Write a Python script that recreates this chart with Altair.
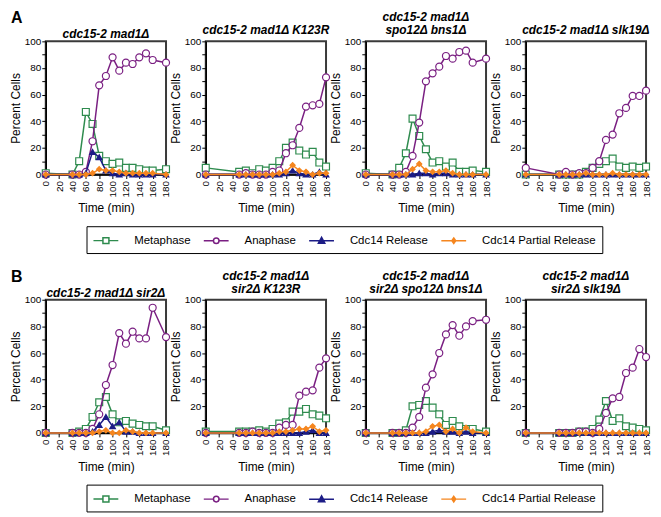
import altair as alt
import pandas as pd

series = ["Metaphase", "Anaphase", "Cdc14 Release", "Cdc14 Partial Release"]
colors = ["#2e8b4e", "#7a1f82", "#1c1c86", "#f5861f"]
fills = ["white", "white", "#1c1c86", "#f5861f"]
shapes = ["square", "circle", "triangle-up", "diamond"]
sizes = [48, 50, 32, 26]
legend_paths = [
    "M-1,0H0.36M1.22,0H2.57M0.36,-0.43H1.22V0.43H0.36Z",
    "M-1,0H0.39M1.19,0H2.57M0.39,0A0.4,0.4,0,1,0,1.19,0A0.4,0.4,0,1,0,0.39,0Z",
    "M-1,0H2.57M0.79,-0.5L1.25,0.36L0.33,0.36Z",
    "M-1,0H2.57M0.79,-0.4L1.07,0L0.79,0.4L0.51,0Z",
]
panel_letters = ["A", "B"]
time_ticks = list(range(0, 181, 20))
y_ticks = list(range(0, 101, 10))

# ---- Row A ----
title_A1 = "cdc15-2 mad1Δ"
times_A1 = [0, 40, 50, 60, 70, 80, 90, 100, 110, 120, 130, 140, 150, 160, 180]
meta_A1 = [1, 0, 10, 47, 38, 14, 10, 8, 9, 5, 5, 4, 3, 3, 4]
ana_A1 = [0, 0, 0, 2, 25, 67, 74, 88, 78, 84, 83, 88, 91, 86, 84]
rel_A1 = [0, 0, 0, 1, 17, 13, 3, 1, 0, 1, 0, 0, 0, 0, 0]
part_A1 = [0, 0, 0, 0, 1, 4, 3, 3, 2, 1, 1, 1, 1, 1, 0]

title_A2 = "cdc15-2 mad1Δ K123R"
times_A2 = [0, 50, 60, 70, 80, 90, 100, 110, 120, 130, 140, 150, 160, 170, 180]
meta_A2 = [5, 2, 3, 1, 4, 3, 5, 10, 20, 24, 18, 15, 17, 9, 6]
ana_A2 = [0, 0, 1, 0, 0, 0, 2, 3, 16, 22, 35, 51, 52, 53, 73]
rel_A2 = [0, 0, 0, 0, 0, 0, 0, 0, 1, 3, 1, 0, 0, 2, 0]
part_A2 = [0, 0, 0, 0, 0, 0, 0, 1, 2, 7, 3, 2, 0, 1, 1]

title_A3 = ["cdc15-2 mad1Δ", "spo12Δ bns1Δ"]
times_A3 = [0, 40, 50, 60, 70, 80, 90, 100, 110, 120, 130, 140, 150, 160, 180]
meta_A3 = [1, 0, 5, 16, 42, 29, 19, 9, 10, 6, 9, 2, 2, 3, 2]
ana_A3 = [0, 0, 0, 2, 14, 39, 70, 76, 81, 89, 87, 92, 93, 84, 87]
rel_A3 = [0, 0, 0, 0, 0, 1, 1, 0, 1, 1, 0, 0, 0, 0, 0]
part_A3 = [0, 0, 0, 0, 4, 8, 3, 2, 2, 3, 1, 0, 0, 0, 0]

title_A4 = "cdc15-2 mad1Δ slk19Δ"
times_A4 = [0, 50, 60, 70, 80, 90, 100, 110, 120, 130, 140, 150, 160, 170, 180]
meta_A4 = [0, 0, 0, 0, 0, 2, 5, 8, 10, 12, 6, 5, 6, 5, 6]
ana_A4 = [5, 0, 2, 0, 1, 1, 5, 10, 26, 30, 46, 50, 59, 59, 63]
rel_A4 = [0, 0, 0, 0, 0, 0, 0, 0, 0, 0, 0, 0, 0, 0, 0]
part_A4 = [0, 0, 0, 0, 0, 1, 0, 0, 0, 1, 0, 0, 0, 0, 0]

# ---- Row B ----
title_B1 = "cdc15-2 mad1Δ sir2Δ"
times_B1 = [0, 40, 50, 60, 70, 80, 90, 100, 110, 120, 130, 140, 150, 160, 180]
meta_B1 = [0, 0, 1, 3, 12, 23, 27, 14, 8, 9, 7, 6, 5, 5, 2]
ana_B1 = [0, 0, 0, 0, 3, 14, 36, 51, 75, 67, 76, 71, 71, 94, 72]
rel_B1 = [0, 0, 0, 0, 1, 6, 12, 5, 8, 1, 1, 0, 0, 0, 0]
part_B1 = [0, 0, 0, 0, 0, 1, 2, 0, 0, 2, 1, 0, 0, 0, 0]

title_B2 = ["cdc15-2 mad1Δ", "sir2Δ K123R"]
times_B2 = [0, 50, 60, 70, 80, 90, 100, 110, 120, 130, 140, 150, 160, 170, 180]
meta_B2 = [1, 1, 1, 1, 2, 1, 3, 7, 8, 16, 16, 18, 14, 13, 11]
ana_B2 = [0, 0, 0, 1, 0, 0, 0, 4, 6, 6, 28, 31, 32, 49, 56]
rel_B2 = [0, 0, 0, 0, 0, 0, 0, 0, 0, 0, 0, 1, 2, 0, 0]
part_B2 = [0, 0, 0, 0, 0, 0, 0, 1, 1, 2, 3, 3, 5, 1, 2]

title_B3 = ["cdc15-2 mad1Δ", "sir2Δ spo12Δ bns1Δ"]
times_B3 = [0, 40, 50, 60, 70, 80, 90, 100, 110, 120, 130, 140, 150, 160, 180]
meta_B3 = [0, 0, 0, 2, 20, 21, 24, 19, 14, 6, 9, 5, 3, 3, 1]
ana_B3 = [0, 0, 0, 0, 4, 12, 34, 44, 60, 74, 81, 73, 80, 84, 85]
rel_B3 = [0, 0, 0, 0, 0, 0, 0, 1, 2, 1, 1, 0, 1, 0, 0]
part_B3 = [0, 0, 0, 0, 0, 0, 1, 5, 6, 1, 3, 0, 4, 1, 0]

title_B4 = ["cdc15-2 mad1Δ", "sir2Δ slk19Δ"]
times_B4 = [0, 50, 60, 70, 80, 90, 100, 110, 120, 130, 140, 150, 160, 170, 180]
meta_B4 = [0, 0, 0, 0, 1, 1, 3, 10, 24, 9, 11, 5, 4, 3, 2]
ana_B4 = [0, 0, 0, 0, 1, 1, 0, 3, 15, 26, 27, 45, 49, 63, 57]
rel_B4 = [0, 0, 0, 0, 0, 0, 0, 0, 0, 0, 0, 0, 0, 0, 0]
part_B4 = [0, 0, 0, 0, 0, 0, 0, 0, 0, 0, 0, 0, 0, 0, 0]

FONT = "Liberation Sans"
W, H = 121, 134

x_enc = alt.X(
    "time:Q",
    scale=alt.Scale(domain=[0, 180], nice=False, zero=False),
    axis=alt.Axis(values=time_ticks, labelAngle=-90, title="Time (min)",
                  labelFlush=False, labelOverlap=False, titlePadding=6),
)
y_enc = alt.Y(
    "value:Q",
    scale=alt.Scale(domain=[0, 100], nice=False),
    axis=alt.Axis(values=y_ticks, title="Percent Cells", titlePadding=2, labelPadding=1,
                  labelExpr="datum.value % 20 == 0 ? datum.label : ''"),
)

legend = alt.Legend(title=None, orient="none", direction="horizontal",
                    legendX=41, legendY=186)

title_style = dict(fontSize=12, fontWeight="bold", fontStyle="italic", font=FONT)


def make_panel(title, t, vals, letter=None):
    rows = []
    for s, v in zip(series, vals):
        for ti, vi in zip(t, v):
            rows.append({"series": s, "time": ti, "value": vi})
    d = pd.DataFrame(rows)
    base = alt.Chart(d).encode(x=x_enc, y=y_enc)
    layers = []
    for k, s in enumerate(series):
        sub = base.transform_filter(alt.datum.series == s)
        layers.append(sub.mark_line(color=colors[k], strokeWidth=1.5))
        layers.append(sub.mark_point(shape=shapes[k], filled=True, fill=fills[k],
                                     stroke=colors[k], strokeWidth=1.2,
                                     size=sizes[k], opacity=1))
    leg = alt.Chart(d).transform_filter("datum.value < -1").mark_point(filled=True).encode(
        fill=alt.Fill("series:N", scale=alt.Scale(domain=series, range=fills), legend=legend),
        stroke=alt.Stroke("series:N", scale=alt.Scale(domain=series, range=colors), legend=legend),
        shape=alt.Shape("series:N", scale=alt.Scale(domain=series, range=legend_paths), legend=legend),
    )
    layers.append(leg)
    props = dict(width=W, height=H)
    if letter is not None:
        lab = alt.Chart(pd.DataFrame({"letter": [letter]})).mark_text(
            align="left", baseline="top", fontSize=16, fontWeight="bold", font=FONT, color="black"
        ).encode(text="letter:N", x=alt.value(-35), y=alt.value(-31))
        ttl = alt.Chart(pd.DataFrame({"title": [title]})).mark_text(
            align="center", baseline="bottom", color="black", **title_style
        ).encode(text="title:N", x=alt.value(W / 2), y=alt.value(0))
        layers.extend([lab, ttl])
    else:
        props["title"] = alt.TitleParams(text=title, offset=-1, lineHeight=13, **title_style)
    return alt.layer(*layers).properties(**props)


panels_A = [
    make_panel(title_A1, times_A1, [meta_A1, ana_A1, rel_A1, part_A1], panel_letters[0]),
    make_panel(title_A2, times_A2, [meta_A2, ana_A2, rel_A2, part_A2]),
    make_panel(title_A3, times_A3, [meta_A3, ana_A3, rel_A3, part_A3]),
    make_panel(title_A4, times_A4, [meta_A4, ana_A4, rel_A4, part_A4]),
]
panels_B = [
    make_panel(title_B1, times_B1, [meta_B1, ana_B1, rel_B1, part_B1], panel_letters[1]),
    make_panel(title_B2, times_B2, [meta_B2, ana_B2, rel_B2, part_B2]),
    make_panel(title_B3, times_B3, [meta_B3, ana_B3, rel_B3, part_B3]),
    make_panel(title_B4, times_B4, [meta_B4, ana_B4, rel_B4, part_B4]),
]

row_A = alt.hconcat(*panels_A, spacing=40, bounds="flush")
row_B = alt.hconcat(*panels_B, spacing=40, bounds="flush")

chart = alt.vconcat(row_A, row_B, spacing=14).resolve_scale(
    fill="independent", stroke="independent", shape="independent"
).properties(padding=0).configure(font=FONT).configure_view(
    stroke="#3a3a3a", strokeWidth=2
).configure_axis(
    domainColor="black", domainWidth=1.5, tickColor="black", tickWidth=1, tickSize=4,
    labelFontSize=10, labelFont=FONT, titleFont=FONT, titleFontSize=12,
    titleFontWeight="normal", labelColor="black", titleColor="black", grid=False,
    labelPadding=2,
).configure_legend(
    strokeColor="black", padding=6, labelFontSize=11.5, labelFont=FONT, labelColor="black",
    symbolSize=196, symbolStrokeWidth=1.5, columnPadding=10, labelOffset=26,
    symbolOpacity=1,
)

chart.save("out.html", embed_options={"renderer": "svg", "actions": False})
